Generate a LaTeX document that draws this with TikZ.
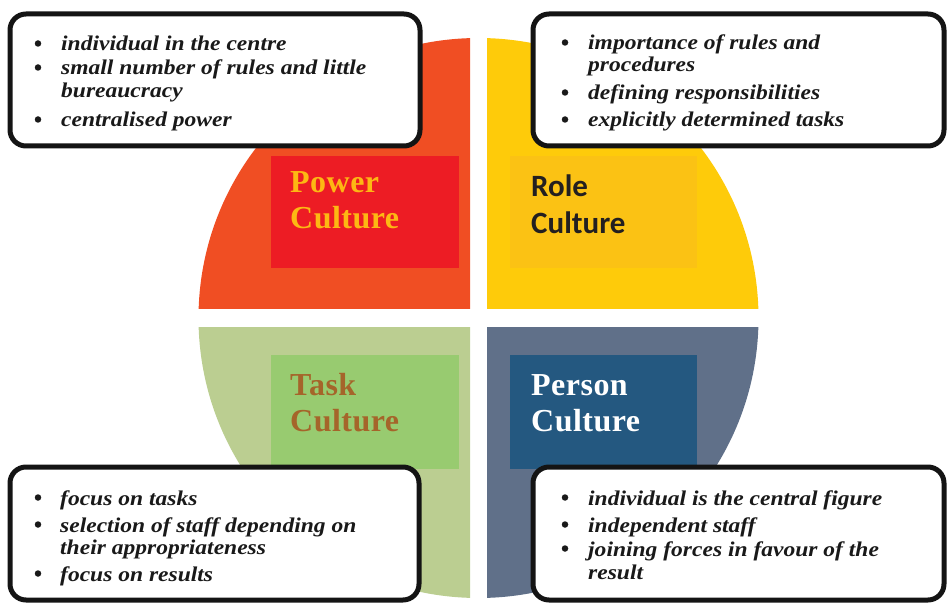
\documentclass[tikz,border=0pt]{standalone}
\usepackage{fontspec}
\setmainfont{Liberation Serif}
\newfontfamily\boxfont[FakeStretch=1.12]{Liberation Serif}
\newfontfamily\titlefont[LetterSpace=1.5]{Liberation Serif}
\newfontfamily\rolefont{Carlito}
\definecolor{cOrange}{HTML}{F04E23}
\definecolor{cYellow}{HTML}{FECB0A}
\definecolor{cGreen}{HTML}{BBCE91}
\definecolor{cSlate}{HTML}{607089}
\definecolor{cRedBox}{HTML}{ED1C24}
\definecolor{cRoleBox}{HTML}{FBC214}
\definecolor{cTaskBox}{HTML}{98CB70}
\definecolor{cPersonBox}{HTML}{245880}
\definecolor{cPowerTxt}{HTML}{FDB813}
\definecolor{cTaskTxt}{HTML}{A5652A}
\definecolor{cRoleTxt}{HTML}{231F20}
\begin{document}
\begin{tikzpicture}[x=1pt,y=-1pt,
  title/.style={anchor=base west, inner sep=0pt, font=\titlefont\fontsize{32}{36}\selectfont\bfseries},
  roletitle/.style={anchor=base west, inner sep=0pt, font=\rolefont\fontsize{31}{36}\selectfont\bfseries},
  itemtxt/.style={anchor=base west, inner sep=0pt, font=\boxfont\fontsize{21}{24}\selectfont\bfseries\itshape, text=black!90},
  bul/.style={circle, fill=black!90, inner sep=0pt, minimum size=6.5pt, yshift=7.5pt},
  callout/.style={draw=black!92, line width=5pt, fill=white, rounded corners=16pt}]
\useasboundingbox (0,0) rectangle (948,604);
% quadrants
\begin{scope}\clip (0,0) rectangle (470,308); \fill[cOrange] (478.5,318) circle[radius=280pt]; \end{scope}
\begin{scope}\clip (487,0) rectangle (948,308); \fill[cYellow] (478.5,318) circle[radius=280pt]; \end{scope}
\begin{scope}\clip (0,327) rectangle (470,604); \fill[cGreen] (478.5,318) circle[radius=280pt]; \end{scope}
\begin{scope}\clip (487,327) rectangle (948,604); \fill[cSlate] (478.5,318) circle[radius=280pt]; \end{scope}
% inner boxes
\fill[cRedBox] (271,156) rectangle (459,268);
\fill[cRoleBox] (510,156) rectangle (697,268);
\fill[cTaskBox] (271,355) rectangle (459,469);
\fill[cPersonBox] (510,355) rectangle (697,469);
% titles
\node[title, text=cPowerTxt] (pow1) at (290,193) {Power};
\node[title, text=cPowerTxt] (pow2) at (290,229) {Culture};
\node[roletitle, text=cRoleTxt] (rol1) at (531,197) {Role};
\node[roletitle, text=cRoleTxt] (rol2) at (531,234) {Culture};
\node[title, text=cTaskTxt] (tas1) at (290,395) {Task};
\node[title, text=cTaskTxt] (tas2) at (290,431) {Culture};
\node[title, text=white] (per1) at (531,395) {Person};
\node[title, text=white] (per2) at (531,431) {Culture};
% callouts
\draw[callout] (10,14) rectangle (420,146);
\draw[callout] (533,14) rectangle (944,146);
\draw[callout] (10,467) rectangle (419,600);
\draw[callout] (533,467) rectangle (944,600);
% top-left texts
\node[bul] (b11) at (38,51) {};
\node[itemtxt] (t11) at (61,51) {individual in the centre};
\node[bul] (b12) at (38,75) {};
\node[itemtxt] (t12) at (61,75) {small number of rules and little};
\node[itemtxt] (t13) at (61,98) {bureaucracy};
\node[bul] (b14) at (38,127) {};
\node[itemtxt] (t14) at (61,127) {centralised power};
% top-right texts
\node[bul] (b21) at (565,50) {};
\node[itemtxt] (t21) at (588,50) {importance of rules and};
\node[itemtxt] (t22) at (588,72) {procedures};
\node[bul] (b23) at (565,100) {};
\node[itemtxt] (t23) at (588,100) {defining responsibilities};
\node[bul] (b24) at (565,127) {};
\node[itemtxt] (t24) at (588,127) {explicitly determined tasks};
% bottom-left texts
\node[bul] (b31) at (38,505) {};
\node[itemtxt] (t31) at (60,505) {focus on tasks};
\node[bul] (b32) at (38,532) {};
\node[itemtxt] (t32) at (60,532) {selection of staff depending on};
\node[itemtxt] (t33) at (60,554) {their appropriateness};
\node[bul] (b34) at (38,581) {};
\node[itemtxt] (t34) at (60,581) {focus on results};
% bottom-right texts
\node[bul] (b41) at (565,505) {};
\node[itemtxt] (t41) at (588,505) {individual is the central figure};
\node[bul] (b42) at (565,532) {};
\node[itemtxt] (t42) at (588,532) {independent staff};
\node[bul] (b43) at (565,556) {};
\node[itemtxt] (t43) at (588,556) {joining forces in favour of the};
\node[itemtxt] (t44) at (588,579) {result};
\end{tikzpicture}
\end{document}
